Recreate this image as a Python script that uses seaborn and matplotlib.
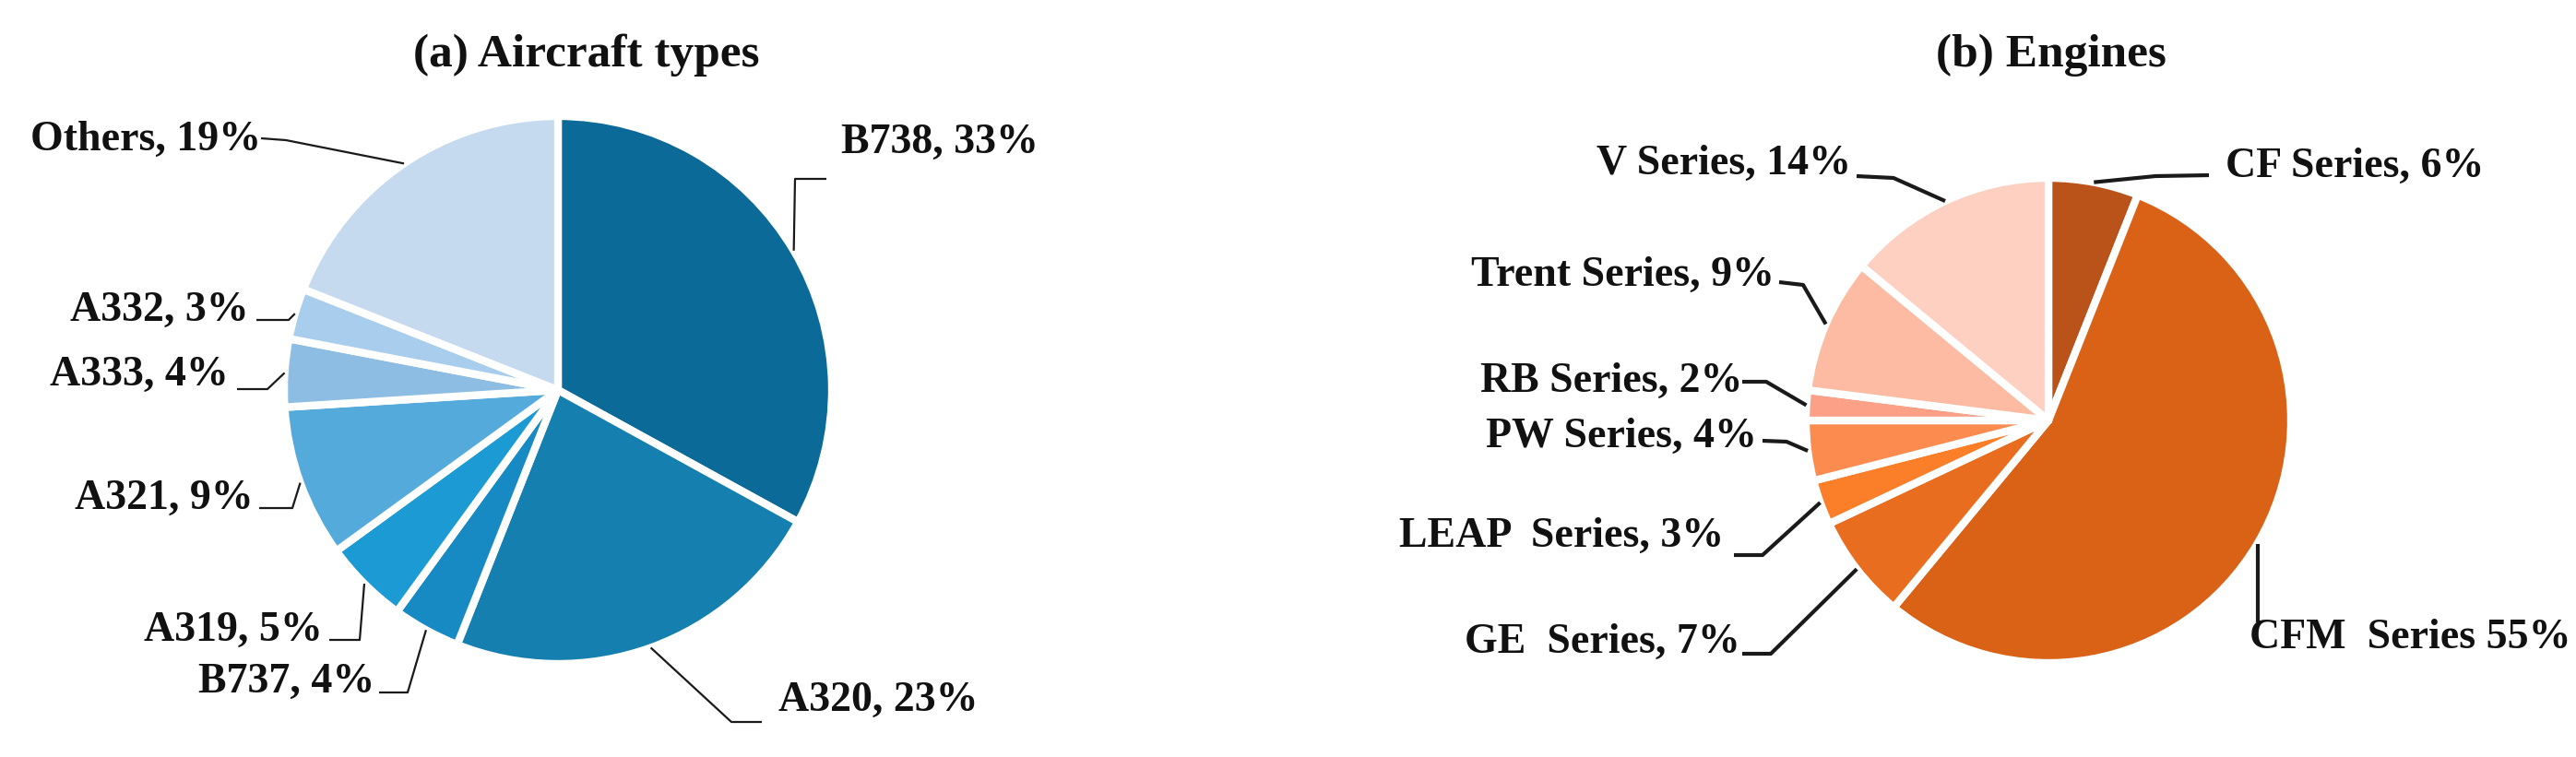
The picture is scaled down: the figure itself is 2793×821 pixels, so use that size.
import numpy as np
import matplotlib
matplotlib.use('Agg')
import matplotlib.pyplot as plt
import seaborn as sns

sns.set_theme(style='white')
plt.rcParams['font.family'] = ['Liberation Serif', 'DejaVu Serif']

# (a) aircraft types, clockwise from 12 o'clock
aircraft_types = ['B738', 'A320', 'B737', 'A319', 'A321', 'A333', 'A332', 'Others']
aircraft_share = [33, 23, 4, 5, 9, 4, 3, 19]
aircraft_colors = ['#0b6a98', '#1580b0', '#1789c3', '#1c9ad4',
                   '#55aadc', '#8dbde3', '#a9cdec', '#c5daef']

# (b) engines, clockwise from 12 o'clock
engine_types = ['CF Series', 'CFM  Series', 'GE  Series', 'LEAP  Series',
                'PW Series', 'RB Series', 'Trent Series', 'V Series']
engine_share = [6, 55, 7, 3, 4, 2, 9, 14]
engine_colors = ['#b9531a', '#d96217', '#e96d1f', '#fb7f28',
                 '#fc8b50', '#fca088', '#fcbba2', '#fdd0c2']

# label layout in pixel coords: (text x, text baseline y, ha, leader points after the wedge edge)
aircraft_layout = [
    (912, 166, 'left', [(862, 194), (896, 194)]),
    (844, 771, 'left', [(793, 783), (826, 783)]),
    (406, 751, 'right', [(442, 751), (411, 751)]),
    (350, 695, 'right', [(390, 694), (357, 694)]),
    (275, 552, 'right', [(317, 551), (281, 551)]),
    (248, 418, 'right', [(290, 422), (257, 422)]),
    (270, 348, 'right', [(313, 347), (278, 347)]),
    (283, 163, 'right', [(310, 152), (283, 150)]),
]
engine_layout = [
    (2413, 192, 'left', [(2337, 191), (2395, 190)]),
    (2439, 703, 'left', [(2448, 675)]),
    (1887, 708, 'right', [(1920, 709), (1889, 709)]),
    (1869, 593, 'right', [(1911, 602), (1880, 602)]),
    (1905, 485, 'right', [(1937, 479), (1911, 478)]),
    (1889, 425, 'right', [(1915, 414), (1889, 414)]),
    (1924, 310, 'right', [(1955, 309), (1929, 306)]),
    (2007, 189, 'right', [(2053, 193), (2013, 191)]),
]

W, H = 2793, 821
fig = plt.figure(figsize=(W / 100, H / 100), dpi=100)
ax = fig.add_axes([0, 0, 1, 1])


def draw_pie(names, shares, colors, layout, center, radius, title, title_x, line_w):
    wedges, _ = ax.pie(shares, colors=colors, startangle=270, counterclock=True,
                       center=center, radius=radius,
                       wedgeprops=dict(edgecolor='white', linewidth=6,
                                       joinstyle='round'))
    for w, name, share, (tx, ty, ha, pts) in zip(wedges, names, shares, layout):
        mid = np.deg2rad((w.theta1 + w.theta2) / 2)
        ex = center[0] + radius * np.cos(mid)
        ey = center[1] + radius * np.sin(mid)
        xs = [ex] + [p[0] for p in pts]
        ys = [ey] + [p[1] for p in pts]
        if len(pts) == 1:
            xs[0] = pts[0][0]
        ax.plot(xs, ys, color='#1a1a1a', lw=line_w, solid_capstyle='butt')
        sep = ' ' if 'CFM' in name else ', '
        ax.text(tx, ty, f'{name}{sep}{share}%', ha=ha, va='baseline',
                fontsize=33, fontweight='bold', color='#111111')
    ax.text(title_x, 72, title, ha='center', va='baseline',
            fontsize=37, fontweight='bold', color='#111111')


draw_pie(aircraft_types, aircraft_share, aircraft_colors, aircraft_layout,
         (605, 423), 297, '(a) Aircraft types', 636, 1.6)
draw_pie(engine_types, engine_share, engine_colors, engine_layout,
         (2221, 456), 263, '(b) Engines', 2224, 3)

ax.set_xlim(0, W)
ax.set_ylim(H, 0)
ax.set_aspect('equal')
ax.axis('off')

plt.savefig('out.png', dpi=100)
